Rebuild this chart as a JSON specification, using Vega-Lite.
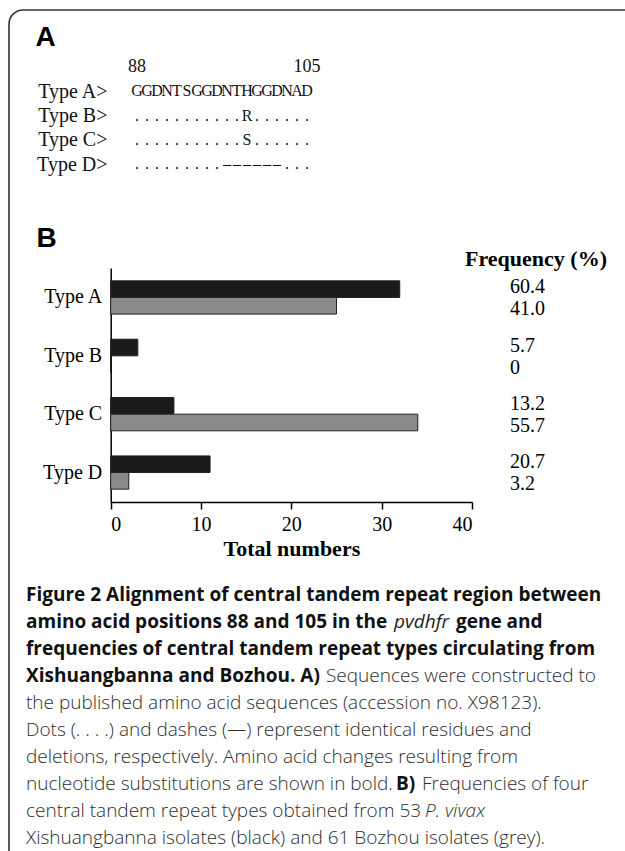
{
  "$schema": "https://vega.github.io/schema/vega-lite/v6.json",
  "width": 616,
  "height": 841,
  "autosize": {"type": "none"},
  "padding": {"left": 9, "top": 10, "right": 0, "bottom": 0},
  "background": "white",
  "config": {
    "view": {"stroke": null},
    "axis": {"grid": false}
  },
  "datasets": {
    "frame": [{"part": "border"}],
    "header": [{"row": "#", "pos": 88}, {"row": "#", "pos": 105}],
    "seq": [
      {"row": "Type A>", "pos": 88, "res": "G"}, {"row": "Type A>", "pos": 89, "res": "G"}, {"row": "Type A>", "pos": 90, "res": "D"}, {"row": "Type A>", "pos": 91, "res": "N"}, {"row": "Type A>", "pos": 92, "res": "T"}, {"row": "Type A>", "pos": 93, "res": "S"}, {"row": "Type A>", "pos": 94, "res": "G"}, {"row": "Type A>", "pos": 95, "res": "G"}, {"row": "Type A>", "pos": 96, "res": "D"}, {"row": "Type A>", "pos": 97, "res": "N"}, {"row": "Type A>", "pos": 98, "res": "T"}, {"row": "Type A>", "pos": 99, "res": "H"}, {"row": "Type A>", "pos": 100, "res": "G"}, {"row": "Type A>", "pos": 101, "res": "G"}, {"row": "Type A>", "pos": 102, "res": "D"}, {"row": "Type A>", "pos": 103, "res": "N"}, {"row": "Type A>", "pos": 104, "res": "A"}, {"row": "Type A>", "pos": 105, "res": "D"},
      {"row": "Type B>", "pos": 88, "res": "."}, {"row": "Type B>", "pos": 89, "res": "."}, {"row": "Type B>", "pos": 90, "res": "."}, {"row": "Type B>", "pos": 91, "res": "."}, {"row": "Type B>", "pos": 92, "res": "."}, {"row": "Type B>", "pos": 93, "res": "."}, {"row": "Type B>", "pos": 94, "res": "."}, {"row": "Type B>", "pos": 95, "res": "."}, {"row": "Type B>", "pos": 96, "res": "."}, {"row": "Type B>", "pos": 97, "res": "."}, {"row": "Type B>", "pos": 98, "res": "."}, {"row": "Type B>", "pos": 99, "res": "R"}, {"row": "Type B>", "pos": 100, "res": "."}, {"row": "Type B>", "pos": 101, "res": "."}, {"row": "Type B>", "pos": 102, "res": "."}, {"row": "Type B>", "pos": 103, "res": "."}, {"row": "Type B>", "pos": 104, "res": "."}, {"row": "Type B>", "pos": 105, "res": "."},
      {"row": "Type C>", "pos": 88, "res": "."}, {"row": "Type C>", "pos": 89, "res": "."}, {"row": "Type C>", "pos": 90, "res": "."}, {"row": "Type C>", "pos": 91, "res": "."}, {"row": "Type C>", "pos": 92, "res": "."}, {"row": "Type C>", "pos": 93, "res": "."}, {"row": "Type C>", "pos": 94, "res": "."}, {"row": "Type C>", "pos": 95, "res": "."}, {"row": "Type C>", "pos": 96, "res": "."}, {"row": "Type C>", "pos": 97, "res": "."}, {"row": "Type C>", "pos": 98, "res": "."}, {"row": "Type C>", "pos": 99, "res": "S"}, {"row": "Type C>", "pos": 100, "res": "."}, {"row": "Type C>", "pos": 101, "res": "."}, {"row": "Type C>", "pos": 102, "res": "."}, {"row": "Type C>", "pos": 103, "res": "."}, {"row": "Type C>", "pos": 104, "res": "."}, {"row": "Type C>", "pos": 105, "res": "."},
      {"row": "Type D>", "pos": 88, "res": "."}, {"row": "Type D>", "pos": 89, "res": "."}, {"row": "Type D>", "pos": 90, "res": "."}, {"row": "Type D>", "pos": 91, "res": "."}, {"row": "Type D>", "pos": 92, "res": "."}, {"row": "Type D>", "pos": 93, "res": "."}, {"row": "Type D>", "pos": 94, "res": "."}, {"row": "Type D>", "pos": 95, "res": "."}, {"row": "Type D>", "pos": 96, "res": "."}, {"row": "Type D>", "pos": 97, "res": "–"}, {"row": "Type D>", "pos": 98, "res": "–"}, {"row": "Type D>", "pos": 99, "res": "–"}, {"row": "Type D>", "pos": 100, "res": "–"}, {"row": "Type D>", "pos": 101, "res": "–"}, {"row": "Type D>", "pos": 102, "res": "–"}, {"row": "Type D>", "pos": 103, "res": "."}, {"row": "Type D>", "pos": 104, "res": "."}, {"row": "Type D>", "pos": 105, "res": "."}
    ],
    "counts": [
      {"type": "Type A", "site": "Xishuangbanna", "n": 32, "freq": "60.4"},
      {"type": "Type A", "site": "Bozhou", "n": 25, "freq": "41.0"},
      {"type": "Type B", "site": "Xishuangbanna", "n": 3, "freq": "5.7"},
      {"type": "Type B", "site": "Bozhou", "n": 0, "freq": "0"},
      {"type": "Type C", "site": "Xishuangbanna", "n": 7, "freq": "13.2"},
      {"type": "Type C", "site": "Bozhou", "n": 34, "freq": "55.7"},
      {"type": "Type D", "site": "Xishuangbanna", "n": 11, "freq": "20.7"},
      {"type": "Type D", "site": "Bozhou", "n": 2, "freq": "3.2"}
    ],
    "capBold": [
      {"line": 1, "t": "Figure 2 Alignment of central tandem repeat region between"},
      {"line": 2, "t": "amino acid positions 88 and 105 in the"},
      {"line": 3, "t": "frequencies of central tandem repeat types circulating from"},
      {"line": 4, "t": "Xishuangbanna and Bozhou. A)"}
    ],
    "capReg": [
      {"line": 5, "t": "the published amino acid sequences (accession no. X98123)."},
      {"line": 6, "t": "Dots (. . . .) and dashes (—) represent identical residues and"},
      {"line": 7, "t": "deletions, respectively. Amino acid changes resulting from"},
      {"line": 8, "t": "nucleotide substitutions are shown in bold."},
      {"line": 9, "t": "central tandem repeat types obtained from 53"},
      {"line": 10, "t": "Xishuangbanna isolates (black) and 61 Bozhou isolates (grey)."}
    ]
  },
  "layer": [
    {
      "data": {"name": "frame"},
      "mark": {"type": "rect", "fill": "white", "fillOpacity": 0, "stroke": "#333333", "strokeWidth": 1.6, "cornerRadius": 14},
      "encoding": {
        "x": {"datum": 0, "type": "quantitative", "scale": {"domain": [0, 1], "range": [0, 640]}, "axis": null},
        "x2": {"datum": 1},
        "y": {"datum": 0, "type": "quantitative", "scale": {"domain": [0, 1], "range": [0, 860]}, "axis": null},
        "y2": {"datum": 1}
      }
    },
    {
      "encoding": {
        "x": {"field": "pos", "type": "quantitative", "scale": {"domain": [88, 105], "range": [128, 298]}, "axis": null},
        "y": {
          "field": "row", "type": "nominal",
          "scale": {"type": "point", "padding": 0, "domain": ["#", "Type A>", "Type B>", "Type C>", "Type D>"], "range": [57, 154]},
          "axis": {
            "orient": "left", "offset": -98, "domain": false, "ticks": false, "tickSize": 0, "labelPadding": 0,
            "labelExpr": "datum.value == '#' ? '' : datum.value",
            "labelFont": "Liberation Serif", "labelFontSize": 20, "labelColor": "#111",
            "title": "A", "titleAngle": 0, "titleX": -72, "titleY": 27, "titleAlign": "left", "titleBaseline": "middle",
            "titleFont": "Liberation Sans", "titleFontSize": 28, "titleFontWeight": "bold", "titleColor": "#000"
          }
        }
      },
      "layer": [
        {
          "data": {"name": "header"},
          "mark": {"type": "text", "font": "Liberation Serif", "fontSize": 18, "color": "#111", "baseline": "middle"},
          "encoding": {"text": {"field": "pos", "type": "quantitative", "format": "d"}}
        },
        {
          "data": {"name": "seq"},
          "mark": {"type": "text", "font": "Liberation Serif", "fontSize": 16, "color": "#111", "baseline": "middle"},
          "encoding": {"text": {"field": "res"}}
        }
      ]
    },
    {
      "data": {"name": "counts"},
      "layer": [
        {
          "mark": {"type": "bar", "stroke": "#222222", "strokeWidth": 1},
          "encoding": {
            "x": {
              "field": "n", "type": "quantitative",
              "scale": {"domain": [0, 40], "range": [101.7, 463], "nice": false},
              "axis": {
                "orient": "bottom", "offset": -349, "values": [0, 10, 20, 30, 40],
                "domainColor": "#000", "domainWidth": 1.5, "tickColor": "#000", "tickWidth": 1.5, "tickSize": 7,
                "labelFont": "Liberation Serif", "labelFontSize": 20, "labelColor": "#000", "labelPadding": 5,
                "title": "Total numbers", "titleFont": "Liberation Serif", "titleFontSize": 22, "titleFontWeight": "bold",
                "titleColor": "#000", "titlePadding": 4
              }
            },
            "y": {
              "field": "type", "type": "nominal",
              "scale": {"type": "band", "domain": ["Type A", "Type B", "Type C", "Type D"], "range": [258, 492], "paddingInner": 0.43, "paddingOuter": 0.22},
              "axis": {
                "orient": "left", "offset": -101.7, "domainColor": "#000", "domainWidth": 1.5, "ticks": false, "tickSize": 0,
                "labelPadding": 9, "labelFont": "Liberation Serif", "labelFontSize": 20, "labelColor": "#000",
                "title": "B", "titleAngle": 0, "titleX": -74.7, "titleY": 228.5, "titleAlign": "left", "titleBaseline": "middle",
                "titleFont": "Liberation Sans", "titleFontSize": 28, "titleFontWeight": "bold", "titleColor": "#000"
              }
            },
            "yOffset": {"field": "site", "type": "nominal", "scale": {"domain": ["Xishuangbanna", "Bozhou"], "paddingInner": 0, "paddingOuter": 0}},
            "color": {"field": "site", "type": "nominal", "scale": {"domain": ["Xishuangbanna", "Bozhou"], "range": ["#1a1a1a", "#8a8a8a"]}, "legend": null}
          }
        },
        {
          "transform": [{"filter": "datum.site == 'Xishuangbanna'"}],
          "mark": {"type": "text", "align": "left", "baseline": "middle", "dy": -2, "font": "Liberation Serif", "fontSize": 20, "color": "#000"},
          "encoding": {
            "x": {"datum": 44.2, "type": "quantitative", "scale": {"domain": [0, 40], "range": [101.7, 463], "nice": false}, "axis": null},
            "y": {
              "field": "type", "type": "nominal",
              "scale": {"type": "band", "domain": ["Type A", "Type B", "Type C", "Type D"], "range": [258, 492], "paddingInner": 0.43, "paddingOuter": 0.22},
              "axis": {
                "orient": "right", "offset": -89.5, "labels": false, "ticks": false, "domain": false,
                "title": "Frequency (%)", "titleAngle": 0, "titleX": 0, "titleY": 248, "titleAlign": "center", "titleBaseline": "middle",
                "titleFont": "Liberation Serif", "titleFontSize": 22, "titleFontWeight": "bold", "titleColor": "#000"
              }
            },
            "yOffset": {"field": "site", "type": "nominal", "scale": {"domain": ["Xishuangbanna", "Bozhou"], "paddingInner": 0, "paddingOuter": 0}},
            "text": {"field": "freq"}
          }
        },
        {
          "transform": [{"filter": "datum.site == 'Bozhou'"}],
          "mark": {"type": "text", "align": "left", "baseline": "middle", "dy": 3.5, "font": "Liberation Serif", "fontSize": 20, "color": "#000"},
          "encoding": {
            "x": {"datum": 44.2, "type": "quantitative", "scale": {"domain": [0, 40], "range": [101.7, 463], "nice": false}, "axis": null},
            "y": {
              "field": "type", "type": "nominal",
              "scale": {"type": "band", "domain": ["Type A", "Type B", "Type C", "Type D"], "range": [258, 492], "paddingInner": 0.43, "paddingOuter": 0.22},
              "axis": null
            },
            "yOffset": {"field": "site", "type": "nominal", "scale": {"domain": ["Xishuangbanna", "Bozhou"], "paddingInner": 0, "paddingOuter": 0}},
            "text": {"field": "freq"}
          }
        }
      ],
      "resolve": {"axis": {"x": "independent", "y": "independent"}}
    },
    {
      "encoding": {
        "x": {"datum": 0, "type": "quantitative", "scale": {"domain": [0, 1], "range": [17, 617]}, "axis": null},
        "y": {"field": "line", "type": "quantitative", "scale": {"domain": [1, 10], "range": [585, 828]}, "axis": null},
        "text": {"field": "t"}
      },
      "layer": [
        {"data": {"name": "capBold"}, "mark": {"type": "text", "align": "left", "baseline": "middle", "font": "Open Sans", "fontSize": 19, "fontWeight": "bold", "color": "#111"}},
        {"data": {"name": "capReg"}, "mark": {"type": "text", "align": "left", "baseline": "middle", "font": "Open Sans", "fontSize": 19, "fontWeight": 300, "color": "#2e2e2e"}},
        {"data": {"values": [{"line": 2, "t": "pvdhfr"}]}, "mark": {"type": "text", "align": "left", "baseline": "middle", "dx": 368, "font": "Open Sans", "fontSize": 19, "fontStyle": "italic", "color": "#222"}},
        {"data": {"values": [{"line": 2, "t": "gene and"}]}, "mark": {"type": "text", "align": "left", "baseline": "middle", "dx": 430, "font": "Open Sans", "fontSize": 19, "fontWeight": "bold", "color": "#111"}},
        {"data": {"values": [{"line": 4, "t": "Sequences were constructed to"}]}, "mark": {"type": "text", "align": "left", "baseline": "middle", "dx": 300, "font": "Open Sans", "fontSize": 19, "fontWeight": 300, "color": "#2e2e2e"}},
        {"data": {"values": [{"line": 8, "t": "B)"}]}, "mark": {"type": "text", "align": "left", "baseline": "middle", "dx": 370, "font": "Open Sans", "fontSize": 19, "fontWeight": "bold", "color": "#111"}},
        {"data": {"values": [{"line": 8, "t": "Frequencies of four"}]}, "mark": {"type": "text", "align": "left", "baseline": "middle", "dx": 396, "font": "Open Sans", "fontSize": 19, "fontWeight": 300, "color": "#2e2e2e"}},
        {"data": {"values": [{"line": 9, "t": "P. vivax"}]}, "mark": {"type": "text", "align": "left", "baseline": "middle", "dx": 399, "font": "Open Sans", "fontSize": 19, "fontStyle": "italic", "fontWeight": 300, "color": "#2e2e2e"}}
      ]
    }
  ],
  "resolve": {
    "scale": {"x": "independent", "y": "independent"},
    "axis": {"x": "independent", "y": "independent"}
  }
}
